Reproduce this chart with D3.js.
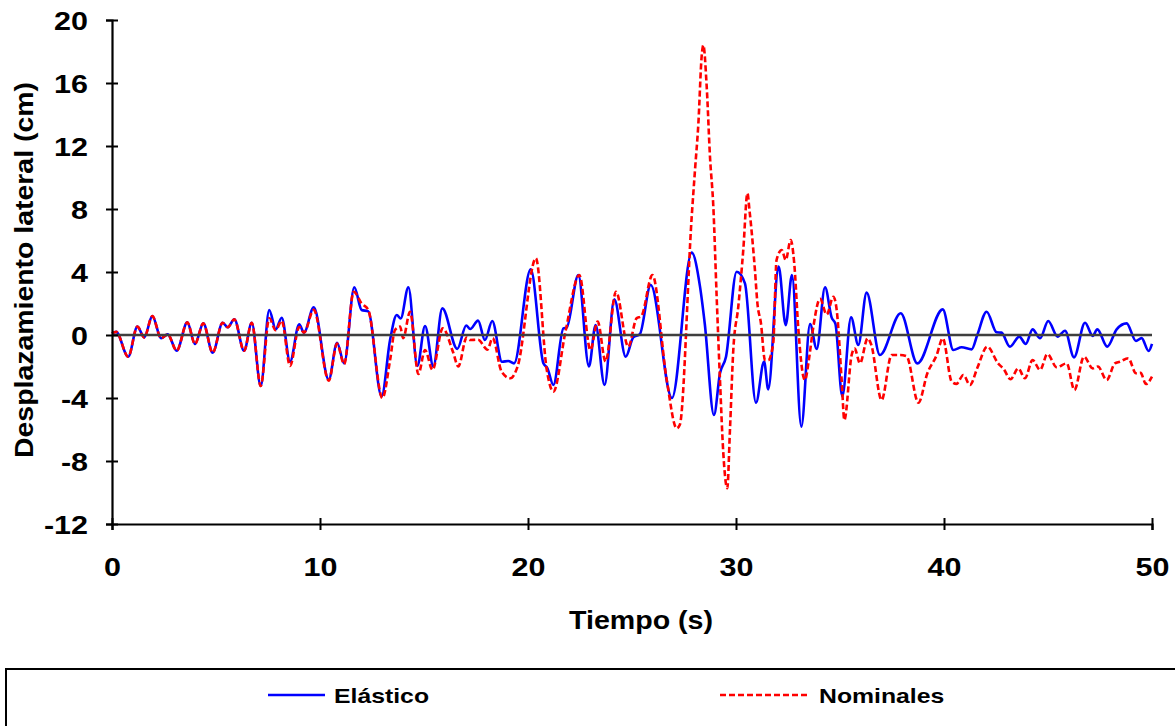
<!DOCTYPE html>
<html>
<head>
<meta charset="utf-8">
<script src="https://cdn.jsdelivr.net/npm/d3@7"></script>
<style>
  html, body { margin: 0; padding: 0; background: #fff; }
  svg { display: block; }
  text { font-family: "Liberation Sans", Arial, sans-serif; font-weight: bold; fill: #000; }
</style>
</head>
<body>
<svg id="chart" width="1175" height="726"></svg>
<script>
// ---- data ----
const xTicks = [0, 10, 20, 30, 40, 50];
const yTicks = [-12, -8, -4, 0, 4, 8, 12, 16, 20];
const seriesNames = ["Elástico", "Nominales"];

const elasticoT = [0,0.2,0.78,1.22,1.55,1.94,2.36,2.68,3.11,3.62,3.99,4.39,4.84,5.32,5.56,5.88,6.35,6.72,7.15,7.56,7.87,8.16,8.56,9.0,9.23,9.7,10.42,10.82,11.16,11.65,12.0,12.32,12.96,13.37,13.69,13.88,14.25,14.68,15.05,15.45,15.88,16.6,17.03,17.22,17.6,17.93,18.28,18.75,19.05,19.33,20.13,20.74,20.93,21.22,21.7,21.86,22.42,22.93,23.25,23.68,24.15,24.7,25.06,25.38,25.9,26.92,27.87,28.27,28.5,28.94,29.23,29.52,30.03,30.43,30.96,31.35,31.55,32.05,32.39,32.69,33.14,33.56,33.88,34.28,34.6,34.78,35.11,35.53,35.88,36.28,36.92,37.92,38.72,39.94,40.45,40.85,41.33,41.6,42.05,42.53,42.76,43.17,43.62,43.93,44.26,44.62,45.01,45.46,45.82,46.25,46.78,47.15,47.37,47.85,48.3,48.78,49.23,49.5,49.84,50.0];
const elasticoV = [0.1,0.2,-1.38,0.53,-0.15,1.2,-0.21,0.04,-1.0,0.8,-0.57,0.74,-1.12,0.78,0.49,1.0,-1.0,0.78,-3.24,1.59,0.36,1.1,-1.69,0.68,0.15,1.76,-2.84,-0.49,-1.8,3.03,1.59,1.5,-3.9,-0.3,1.27,1.05,3.03,-1.97,0.57,-2.0,1.69,-0.88,0.6,0.38,0.91,-0.32,0.89,-1.7,-1.65,-1.8,4.17,-1.8,-2.1,-3.17,0.42,0.47,3.8,-2.0,0.63,-3.17,2.26,-1.38,-0.15,0.06,3.17,-4.0,5.23,3.07,0.7,-5.08,-2.43,-1.38,4.02,3.28,-4.3,-1.69,-3.45,4.34,0.63,3.8,-5.82,0.7,-0.88,3.03,1.1,0.7,-3.9,1.12,-0.63,2.69,-1.27,1.38,-1.8,1.63,-0.95,-0.78,-0.91,0.0,1.48,0.17,0.15,-0.74,-0.1,-0.57,0.36,-0.21,0.89,-0.1,0.27,-1.42,0.78,-0.06,0.36,-0.74,0.36,0.74,-0.38,-0.2,-1.02,-0.57];

const nominalesT = [0,0.2,0.78,1.22,1.55,1.94,2.36,2.68,3.11,3.62,3.99,4.39,4.84,5.32,5.56,5.88,6.35,6.72,7.15,7.56,7.87,8.16,8.56,9.0,9.23,9.7,10.42,10.82,11.16,11.62,12.0,12.32,13.0,13.37,13.6,13.85,14.0,14.33,14.73,15.05,15.41,15.9,16.4,16.65,17.05,17.2,17.6,18.05,18.3,18.73,19.15,19.5,20.38,20.9,21.22,21.8,22.47,23.0,23.35,23.73,24.23,24.82,25.22,25.45,25.98,26.67,27.15,27.3,27.87,28.03,28.19,28.35,28.43,28.59,28.75,28.91,29.07,29.23,29.39,29.58,29.71,29.87,30.11,30.35,30.55,30.65,30.91,31.03,31.2,31.39,31.55,31.79,31.95,32.2,32.39,32.63,32.8,33.0,33.24,33.32,33.5,33.72,34.04,34.36,34.68,34.84,35.08,35.21,35.56,35.7,35.96,36.33,36.5,37.0,37.48,37.9,38.2,38.77,39.2,39.65,39.94,40.37,40.6,40.93,41.25,41.6,42.08,42.6,42.87,43.2,43.57,43.89,44.26,44.62,44.97,45.42,45.9,46.27,46.73,47.15,47.4,47.82,48.22,48.45,48.86,49.23,49.45,49.71,50.0];
const nominalesV = [0.1,0.2,-1.38,0.53,-0.15,1.2,-0.21,0.04,-1.0,0.8,-0.57,0.74,-1.12,0.78,0.49,1.0,-1.0,0.78,-3.24,1.06,0.3,0.9,-1.96,0.5,0.15,1.6,-2.9,-0.55,-1.85,2.75,2.0,1.6,-4.0,-1.59,0.3,0.53,-0.2,1.48,-2.48,-0.95,-2.22,0.42,-1.1,-2.0,-0.16,-0.32,-0.3,-0.93,-0.2,-2.33,-2.75,-2.0,4.87,-2.2,-3.6,0.2,3.8,-0.95,0.85,-1.69,2.75,-0.74,1.06,1.2,3.8,-2.86,-5.93,-5.7,7.5,10.5,13.4,17.7,18.4,15.8,11.3,8.15,2.43,-2.86,-7.5,-9.73,-6.0,-0.95,1.8,5.4,9.0,7.9,4.13,2.0,0.74,-1.59,-1.6,-0.53,4.76,5.4,4.76,6.03,4.55,0.32,-2.65,-2.86,-1.6,0.53,2.3,1.3,2.43,1.6,-2.86,-5.4,-1.27,-0.85,-1.8,-0.21,-0.6,-4.13,-1.27,-1.27,-1.35,-4.3,-2.43,-1.27,-0.21,-2.96,-3.1,-2.54,-3.17,-2.1,-0.74,-1.8,-2.16,-2.81,-2.12,-2.75,-1.59,-2.22,-1.21,-2.05,-1.8,-3.49,-1.38,-2.12,-2.0,-2.86,-1.8,-1.7,-1.48,-2.43,-2.4,-3.11,-2.65];

// ---- layout ----
const FONT = "'Liberation Sans', Arial, sans-serif";
const svg = d3.select("#chart");
const x = d3.scaleLinear().domain([0, 50]).range([112, 1152]);
const y = d3.scaleLinear().domain([-12, 20]).range([524, 20]);

const elastico = elasticoT.map((t, i) => [t, elasticoV[i]]);
const nominales = nominalesT.map((t, i) => [t, nominalesV[i]]);

const line = d3.line().x(d => x(d[0])).y(d => y(d[1])).curve(d3.curveMonotoneX);

// horizontally widen text like the reference rendering
function stretch(sel, factor) {
  sel.each(function () {
    const w = this.getComputedTextLength();
    d3.select(this).attr("textLength", w * factor).attr("lengthAdjust", "spacingAndGlyphs");
  });
}

// series
svg.append("path").datum(elastico).attr("d", line)
  .attr("fill", "none").attr("stroke", "#0000ff").attr("stroke-width", 2.6);
svg.append("path").datum(nominales).attr("d", line)
  .attr("fill", "none").attr("stroke", "#ff0000").attr("stroke-width", 2.6)
  .attr("stroke-dasharray", "6,3");

// zero line
svg.append("line")
  .attr("x1", x(0)).attr("x2", x(50)).attr("y1", y(0)).attr("y2", y(0))
  .attr("stroke", "#3f3f3f").attr("stroke-width", 2.6);

// y axis
const yAxis = svg.append("g").attr("transform", `translate(${x(0)},0)`)
  .call(d3.axisLeft(y).tickValues(yTicks).tickFormat(d => String(d)).tickSize(6).tickPadding(18));
yAxis.select(".domain").attr("stroke", "#000").attr("stroke-width", 2.2);
yAxis.selectAll(".tick line").attr("x1", -6).attr("x2", 6).attr("stroke", "#000").attr("stroke-width", 2);
yAxis.selectAll(".tick text").attr("font-size", 25).attr("font-family", null)
  .style("font-family", FONT).style("font-weight", "bold").attr("dy", "0.36em");
stretch(yAxis.selectAll(".tick text"), 1.22);

// x axis
const xAxis = svg.append("g").attr("transform", `translate(0,${y(-12)})`)
  .call(d3.axisBottom(x).tickValues(xTicks).tickFormat(d => String(d)).tickSize(6).tickPadding(28));
xAxis.select(".domain").attr("stroke", "#000").attr("stroke-width", 2.2);
xAxis.selectAll(".tick line").attr("y1", -6).attr("y2", 6).attr("stroke", "#000").attr("stroke-width", 2);
xAxis.selectAll(".tick text").attr("font-size", 25).attr("font-family", null)
  .style("font-family", FONT).style("font-weight", "bold");
stretch(xAxis.selectAll(".tick text"), 1.22);

// axis titles
svg.append("text").attr("x", 641).attr("y", 629).attr("text-anchor", "middle")
  .attr("font-size", 25).attr("textLength", 144).attr("lengthAdjust", "spacingAndGlyphs")
  .text("Tiempo (s)");
svg.append("text").attr("transform", "translate(33,270) rotate(-90)")
  .attr("text-anchor", "middle").attr("font-size", 25)
  .attr("textLength", 376).attr("lengthAdjust", "spacingAndGlyphs")
  .text("Desplazamiento lateral (cm)");

// legend
svg.append("rect").attr("x", 6).attr("y", 669).attr("width", 1180).attr("height", 70)
  .attr("fill", "none").attr("stroke", "#000").attr("stroke-width", 2);
const leg = [
  { name: seriesNames[0], color: "#0000ff", dash: null, x1: 268, x2: 325 },
  { name: seriesNames[1], color: "#ff0000", dash: "6,3", x1: 720, x2: 810 }
];
leg.forEach(l => {
  svg.append("line").attr("x1", l.x1).attr("x2", l.x2).attr("y1", 695).attr("y2", 695)
    .attr("stroke", l.color).attr("stroke-width", 2.6).attr("stroke-dasharray", l.dash);
  const t = svg.append("text").attr("x", l.x2 + 9).attr("y", 703).attr("font-size", 21).text(l.name);
  stretch(t, 1.18);
});
</script>
</body>
</html>
